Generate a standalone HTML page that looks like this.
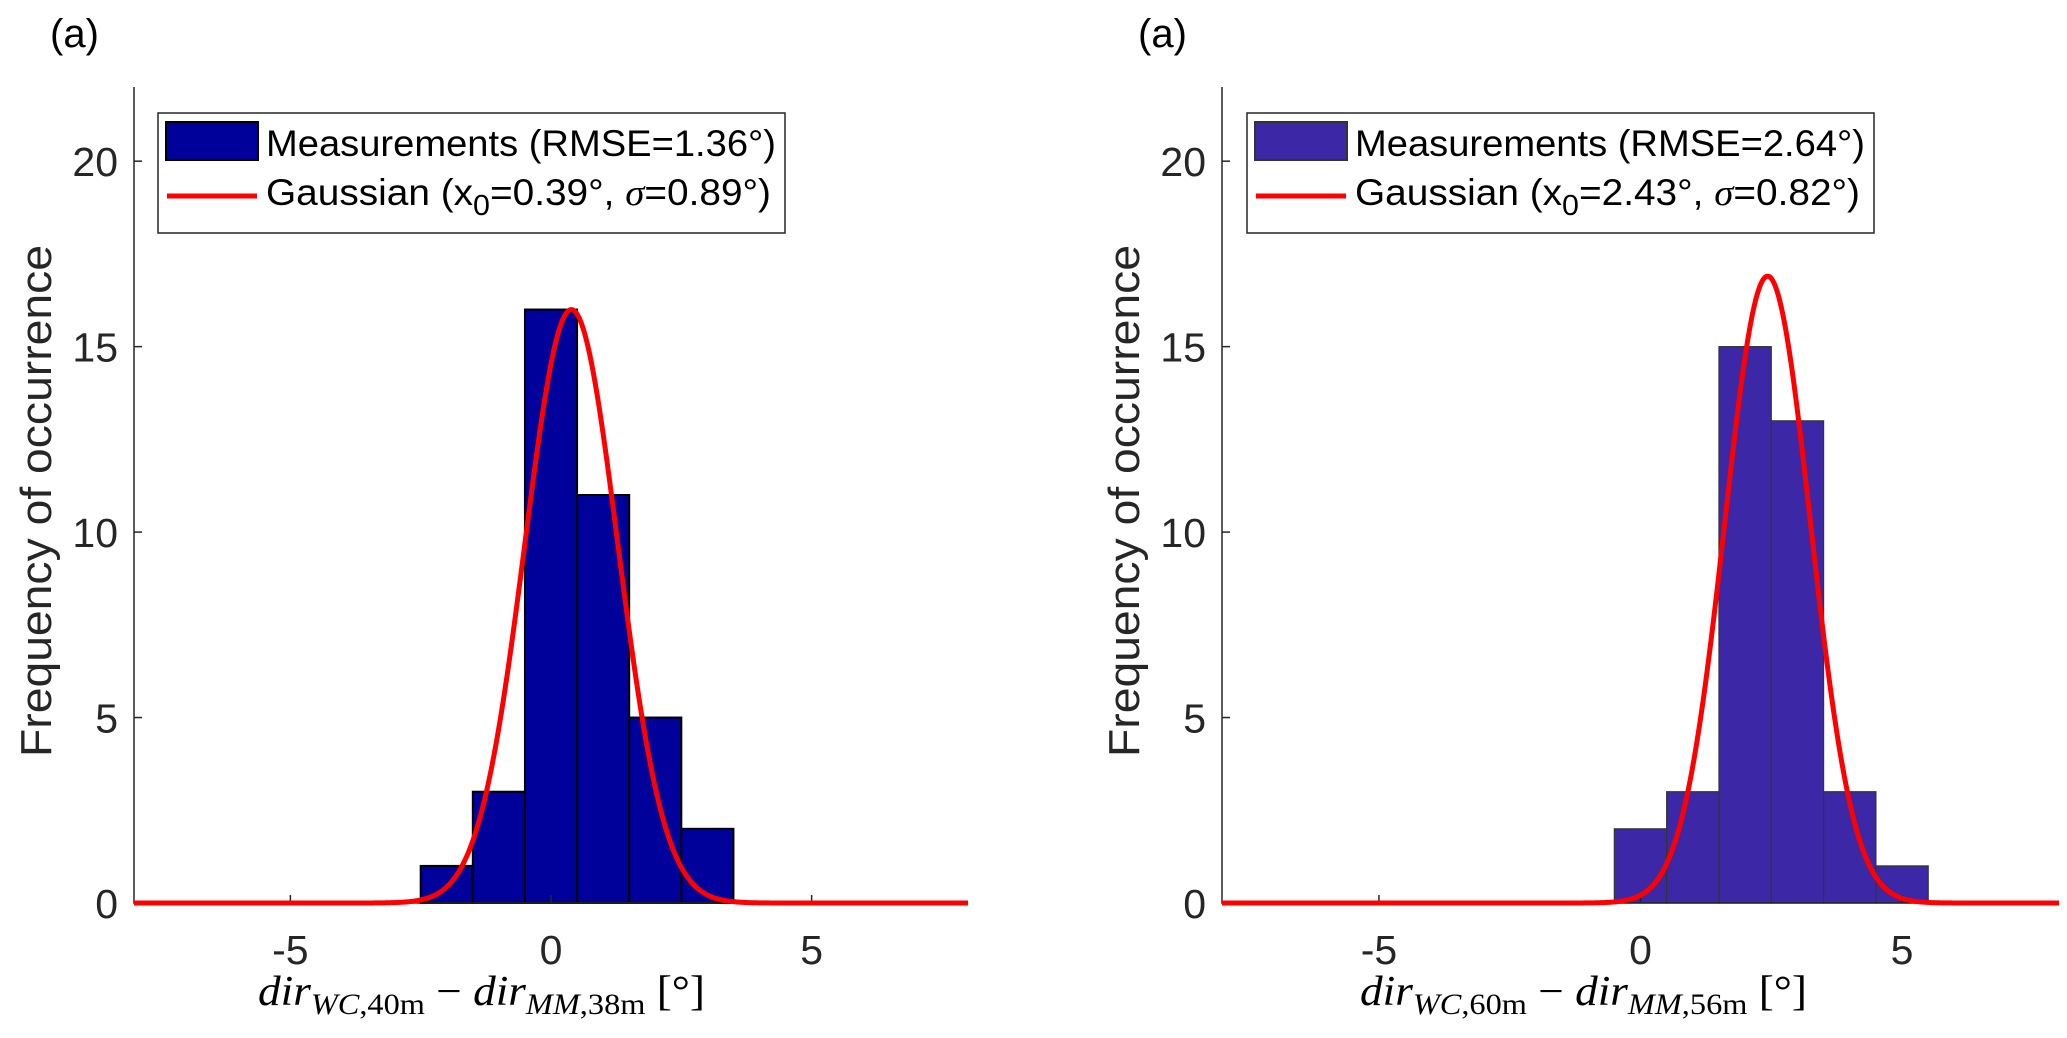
<!DOCTYPE html>
<html><head><meta charset="utf-8"><style>
html,body{margin:0;padding:0;background:#fff;}
svg{display:block;font-family:"Liberation Sans",Arial,sans-serif;}
</style></head><body>
<svg id="fig" width="2067" height="1038" viewBox="0 0 2067 1038" xmlns="http://www.w3.org/2000/svg"></svg>
<script>
// Panel 1 data
const binCenters1 = [-2, -1, 0, 1, 2, 3];
const counts1 = [1, 3, 16, 11, 5, 2];
const gaussMu1 = 0.39, gaussSigma1 = 0.89, gaussAmp1 = 16;
// Panel 2 data
const binCenters2 = [0, 1, 2, 3, 4, 5];
const counts2 = [2, 3, 15, 13, 3, 1];
const gaussMu2 = 2.43, gaussSigma2 = 0.82, gaussAmp2 = 16.9;
const xTicks = [-5, 0, 5];
const yTicks = [0, 5, 10, 15, 20];
const legendLabels1 = ["Measurements (RMSE=1.36°)", "Gaussian (x", "0", "=0.39°, ", "σ", "=0.89°)"];
const legendLabels2 = ["Measurements (RMSE=2.64°)", "Gaussian (x", "0", "=2.43°, ", "σ", "=0.82°)"];

const NS = "http://www.w3.org/2000/svg";
const svg = document.getElementById('fig');
function mk(tag, attrs, parent, text){
  const e = document.createElementNS(NS, tag);
  for (const k in attrs) e.setAttribute(k, attrs[k]);
  if (text !== undefined) e.textContent = text;
  (parent || svg).appendChild(e);
  return e;
}

function panel(opt){
  const g = mk('g', {});
  
  
  const L = opt.left, R = opt.right, T = 87, B = 903;
  const xmin = -8, xmax = 8, ymin = 0, ymax = 22;
  const sx = v => L + (v - xmin) / (xmax - xmin) * (R - L);
  const sy = v => B - (v - ymin) / (ymax - ymin) * (B - T);

  const pl = mk('text', {x: opt.labelX, y: 47, 'font-size': 40, fill: '#000'}, g, '(a)');
  
  

  opt.centers.forEach((c, i) => {
    const r = mk('rect', {x: sx(c - 0.5), y: sy(opt.counts[i]), width: sx(c + 0.5) - sx(c - 0.5), height: sy(0) - sy(opt.counts[i]), fill: opt.barColor, stroke: opt.barEdge, 'stroke-width': opt.edgeW}, g);
    
    
  });

  const ax = mk('path', {d: `M${L},${T} L${L},${B} L${R},${B}`, stroke: '#262626', 'stroke-width': 1.5, fill: 'none'}, g);
  
  

  yTicks.forEach(t => {
    mk('line', {x1: L, x2: L + 8, y1: sy(t), y2: sy(t), stroke: '#262626', 'stroke-width': 1.5}, g);
    const tl = mk('text', {x: L - 16, y: sy(t) + 15, 'font-size': 41, 'text-anchor': 'end', fill: '#262626'}, g, String(t));
    
    
  });
  xTicks.forEach(t => {
    mk('line', {x1: sx(t), x2: sx(t), y1: B, y2: B - 8, stroke: '#262626', 'stroke-width': 1.5}, g);
    const tl = mk('text', {x: sx(t), y: 964, 'font-size': 41, 'text-anchor': 'middle', fill: '#262626'}, g, t < 0 ? '-' + Math.abs(t) : String(t));
    
    
  });

  let d = '';
  for (let i = 0; i <= 800; i++) {
    const x = xmin + (xmax - xmin) * i / 800;
    const y = opt.amp * Math.exp(-0.5 * Math.pow((x - opt.mu) / opt.sigma, 2));
    d += (i ? 'L' : 'M') + sx(x).toFixed(2) + ',' + sy(y).toFixed(2);
  }
  const gl = mk('path', {d: d, stroke: '#ff0000', 'stroke-width': 5, fill: 'none', 'stroke-linejoin': 'round'}, g);
  
  

  const yl = mk('text', {x: 0, y: 0, 'font-size': 44, 'text-anchor': 'middle', fill: '#262626', transform: `translate(${opt.ylabX},501) rotate(-90)`, textLength: 512, lengthAdjust: 'spacingAndGlyphs'}, g, 'Frequency of occurrence');
  
  

  const xl = mk('text', {x: opt.xlabX, y: 1005, 'font-size': 42, fill: '#000', 'font-family': '"Liberation Serif", serif', 'font-style': 'italic', textLength: 447, lengthAdjust: 'spacingAndGlyphs'}, g);
  
  
  mk('tspan', {}, xl, 'dir');
  mk('tspan', {'font-size': 30, dy: 9}, xl, 'WC');
  mk('tspan', {'font-size': 30, 'font-style': 'normal'}, xl, ',' + opt.h1 + 'm');
  mk('tspan', {dy: -9, 'font-style': 'normal'}, xl, ' − ');
  mk('tspan', {}, xl, 'dir');
  mk('tspan', {'font-size': 30, dy: 9}, xl, 'MM');
  mk('tspan', {'font-size': 30, 'font-style': 'normal'}, xl, ',' + opt.h2 + 'm');
  mk('tspan', {dy: -9, 'font-style': 'normal'}, xl, '  [°]');

  const lg = mk('g', {}, g);
  
  
  const lx = opt.legX;
  mk('rect', {x: lx, y: 113, width: 627, height: 120, fill: '#fff', stroke: '#262626', 'stroke-width': 1.5}, lg);
  const sw = mk('rect', {x: lx + 8, y: 122, width: 92, height: 38, fill: opt.barColor, stroke: opt.barEdge === '#333' ? '#333' : '#000', 'stroke-width': 2}, lg);
  
  
  const ln = mk('line', {x1: lx + 9, x2: lx + 99, y1: 196, y2: 196, stroke: '#ff0000', 'stroke-width': 5}, lg);
  
  
  const t1 = mk('text', {x: lx + 108, y: 156, 'font-size': 37, fill: '#000', textLength: 510, lengthAdjust: 'spacingAndGlyphs'}, lg, opt.leg[0]);
  
  
  const t2 = mk('text', {x: lx + 108, y: 205, 'font-size': 37, fill: '#000', textLength: 505, lengthAdjust: 'spacingAndGlyphs'}, lg);
  
  
  mk('tspan', {}, t2, opt.leg[1]);
  mk('tspan', {dy: 10, 'font-size': 29}, t2, opt.leg[2]);
  mk('tspan', {dy: -10}, t2, opt.leg[3]);
  mk('tspan', {'font-style': 'italic', 'font-family': '"Liberation Serif", serif'}, t2, opt.leg[4]);
  mk('tspan', {}, t2, opt.leg[5]);
}

panel({name: 'left-panel', left: 134, right: 968, labelX: 50, ylabX: 51, xlabX: 258, legX: 158,
  centers: binCenters1, counts: counts1, barColor: '#00009b', barEdge: '#000', edgeW: 2,
  mu: gaussMu1, sigma: gaussSigma1, amp: gaussAmp1, h1: 40, h2: 38, leg: legendLabels1});
panel({name: 'right-panel', left: 1222, right: 2059, labelX: 1138, ylabX: 1139, xlabX: 1360, legX: 1247,
  centers: binCenters2, counts: counts2, barColor: '#3c28a6', barEdge: '#333', edgeW: 1.2,
  mu: gaussMu2, sigma: gaussSigma2, amp: gaussAmp2, h1: 60, h2: 56, leg: legendLabels2});
</script>
</body></html>
